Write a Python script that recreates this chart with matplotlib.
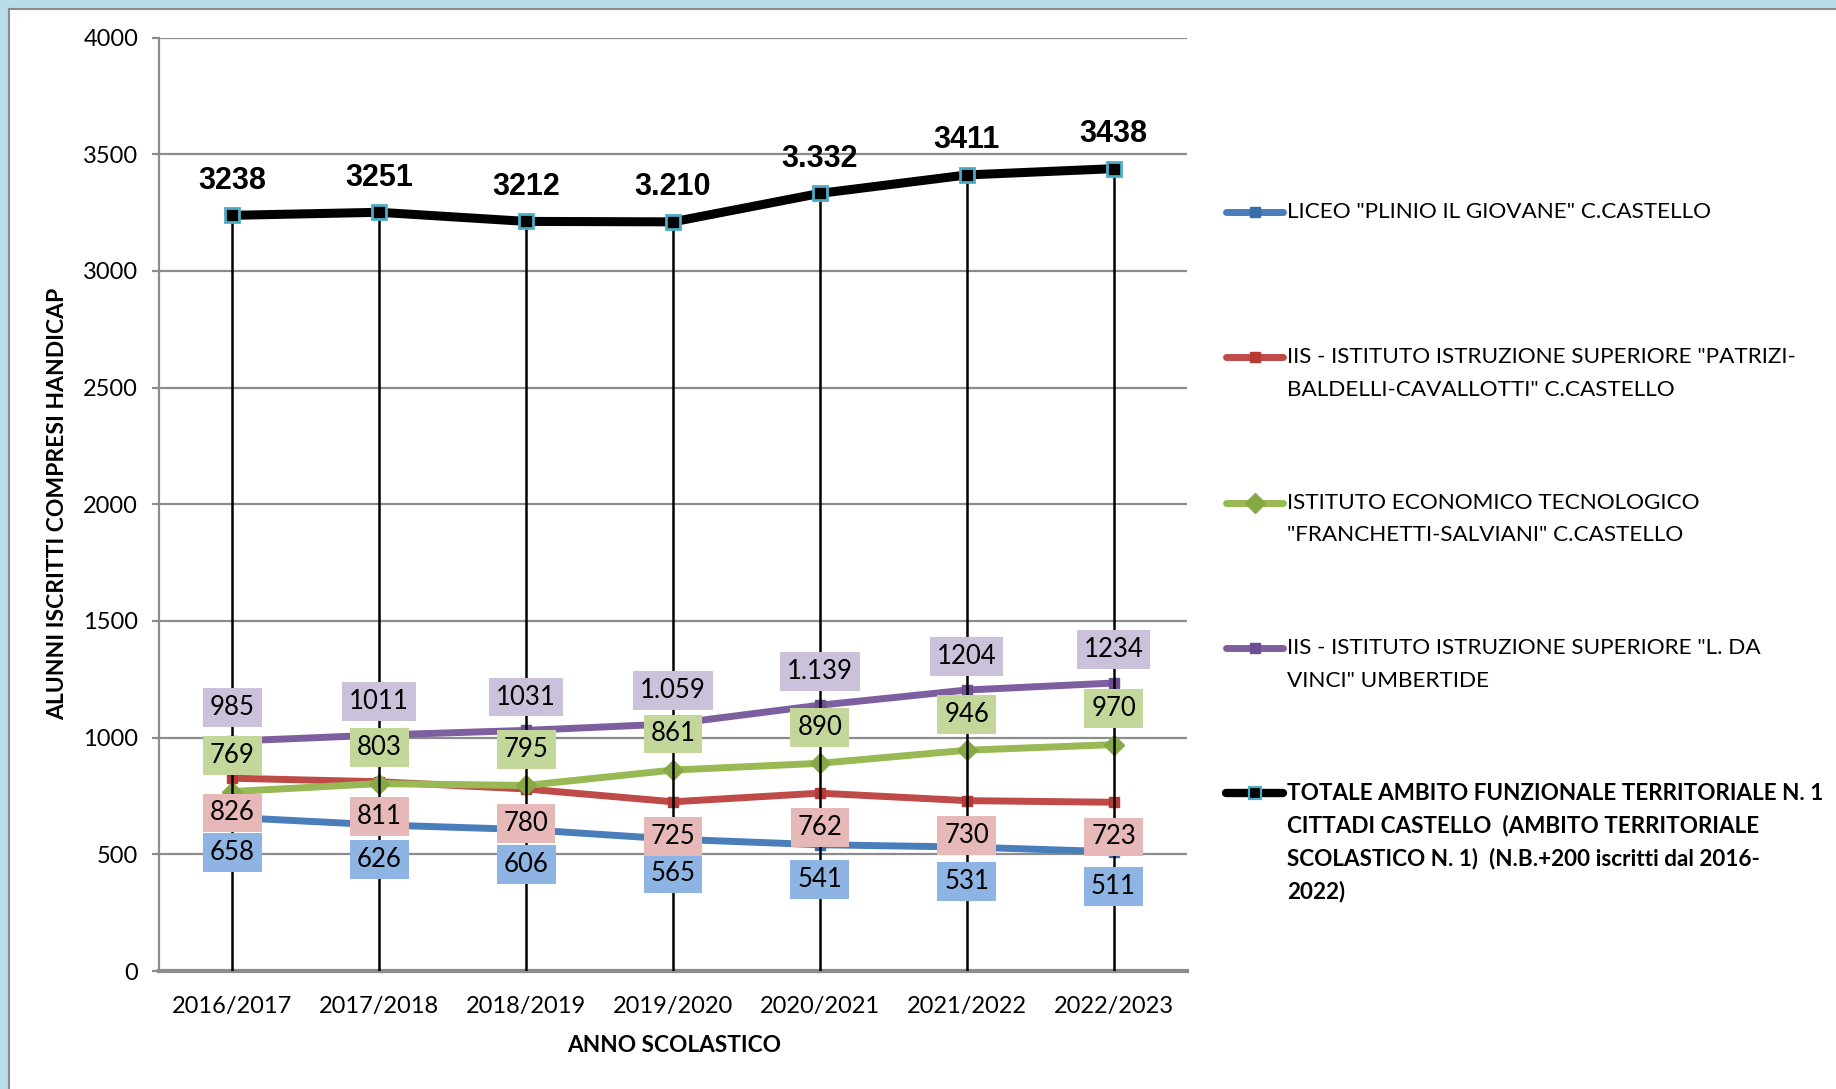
import numpy as np
import matplotlib.pyplot as plt
from matplotlib.patches import Rectangle
from matplotlib.lines import Line2D

# Data
anni = ['2016/2017', '2017/2018', '2018/2019', '2019/2020', '2020/2021', '2021/2022', '2022/2023']
liceo = [658, 626, 606, 565, 541, 531, 511]
patrizi = [826, 811, 780, 725, 762, 730, 723]
economico = [769, 803, 795, 861, 890, 946, 970]
davinci = [985, 1011, 1031, 1059, 1139, 1204, 1234]
totale = [3238, 3251, 3212, 3210, 3332, 3411, 3438]

# labels as printed in the chart
lab_liceo = ['658', '626', '606', '565', '541', '531', '511']
lab_patrizi = ['826', '811', '780', '725', '762', '730', '723']
lab_economico = ['769', '803', '795', '861', '890', '946', '970']
lab_davinci = ['985', '1011', '1031', '1.059', '1.139', '1204', '1234']
lab_totale = ['3238', '3251', '3212', '3.210', '3.332', '3411', '3438']

nomi = [
    ['LICEO "PLINIO IL GIOVANE" C.CASTELLO'],
    ['IIS - ISTITUTO ISTRUZIONE SUPERIORE "PATRIZI-', 'BALDELLI-CAVALLOTTI" C.CASTELLO'],
    ['ISTITUTO ECONOMICO TECNOLOGICO', '"FRANCHETTI-SALVIANI" C.CASTELLO'],
    ['IIS - ISTITUTO ISTRUZIONE SUPERIORE "L. DA', 'VINCI" UMBERTIDE'],
    ['TOTALE AMBITO FUNZIONALE TERRITORIALE N. 1', 'CITTADI CASTELLO  (AMBITO TERRITORIALE',
     'SCOLASTICO N. 1)  (N.B.+200 iscritti dal 2016-', '2022)'],
]

FONT = 'Lato'
W, H = 1836, 1089

fig = plt.figure(figsize=(W / 100, H / 100), dpi=100)
ax = fig.add_axes([159 / W, 118 / H, 1028 / W, 933.5 / H])

x = np.arange(len(anni))

# line series: values, line colour, marker, marker size, marker colour, labels, label box colour, label offset
serie = [
    (liceo, '#4A7EBB', 's', 7, '#3A6BAA', lab_liceo, '#8EB4E3', -25),
    (patrizi, '#BE4B48', 's', 7, '#B83A37', lab_patrizi, '#E6B9B8', -25),
    (economico, '#98B954', 'D', 10, '#86A845', lab_economico, '#C4D79B', 26),
    (davinci, '#7D5FA0', 's', 7, '#6F4F94', lab_davinci, '#CCC1DA', 24),
]

for vals, col, mk, ms, mcol, labs, bcol, off in serie:
    ax.plot(x, vals, color=col, lw=5, marker=mk, ms=ms, mfc=mcol, mec=mcol, zorder=3)

ax.vlines(x, 0, totale, color='black', lw=1.8, zorder=4)
ax.plot(x, totale, color='black', lw=6.5, marker='s', ms=10, mfc='black',
        mec='#4BACC6', mew=2, zorder=5)

for vals, col, mk, ms, mcol, labs, bcol, off in serie:
    for xi, v, t in zip(x, vals, labs):
        ax.annotate(t, (xi, v), xytext=(0, off), textcoords='offset points',
                    ha='center', va='center', fontsize=18.5, family=FONT, zorder=6,
                    bbox=dict(boxstyle='square,pad=0.27', fc=bcol, ec='none'))

for xi, v, t in zip(x, totale, lab_totale):
    ax.annotate(t, (xi, v), xytext=(0, 25), textcoords='offset points',
                ha='center', va='center', fontsize=22, family='Liberation Sans',
                weight='bold', zorder=6)

ax.set_xlim(-0.5, len(anni) - 0.5)
ax.set_ylim(0, 4000)
ax.set_yticks(range(0, 4001, 500))
ax.set_xticks(x)
ax.set_xticklabels(anni)
ax.yaxis.grid(True, color='#8C8C8C', lw=1.6)
ax.set_axisbelow(True)
for s in ['top', 'right']:
    ax.spines[s].set_visible(False)
ax.spines['left'].set_color('#8C8C8C')
ax.spines['left'].set_linewidth(1.6)
ax.spines['bottom'].set_color('#8C8C8C')
ax.spines['bottom'].set_linewidth(3)
ax.tick_params(axis='y', length=5, width=1.6, color='#8C8C8C', pad=10, labelsize=17)
ax.tick_params(axis='x', length=0, pad=18, labelsize=17)
for lab in ax.get_xticklabels() + ax.get_yticklabels():
    lab.set_family(FONT)

fig.text(674 / W, 1 - 1046 / H, 'ANNO SCOLASTICO', ha='center', va='center',
         fontsize=16.3, weight='bold', family=FONT)
fig.text(58 / W, 1 - 504 / H, 'ALUNNI ISCRITTI COMPRESI HANDICAP', ha='center', va='center',
         rotation=90, fontsize=16.5, weight='bold', family=FONT)

# legend drawn by hand so the entries keep Excel's spacing
stili = [(c, mk, ms, mc) for _, c, mk, ms, mc, _, _, _ in serie] + [('black', 's', 8, 'black')]
y0 = 212
for i, (righe, (col, mk, ms, mcol)) in enumerate(zip(nomi, stili)):
    yy = 1 - (y0 + i * 145.3) / H
    kw = dict(mec='#4BACC6', mew=1.6) if i == 4 else dict(mec=mcol)
    fig.add_artist(Line2D([1226 / W, 1254.5 / W, 1283 / W], [yy] * 3, color=col,
                          lw=6 if i == 4 else 5, marker=mk, ms=ms, mfc=mcol,
                          markevery=[1], solid_capstyle='round', **kw))
    for j, r in enumerate(righe):
        fig.text(1287 / W, yy - j * 32.8 / H, r, ha='left', va='center', fontsize=16.2,
                 family=FONT, weight='bold' if i == 4 else 'normal')

# light blue frame around the chart
fig.add_artist(Rectangle((0, 1 - 8 / H), 1, 8 / H, transform=fig.transFigure,
                         color='#B7DDE8', zorder=0))
fig.add_artist(Rectangle((0, 0), 8 / W, 1, transform=fig.transFigure,
                         color='#B7DDE8', zorder=0))
fig.add_artist(Line2D([9 / W, 1], [1 - 9 / H] * 2, color='#8C8C8C', lw=1.5))
fig.add_artist(Line2D([9 / W] * 2, [0, 1 - 9 / H], color='#8C8C8C', lw=1.5))

fig.savefig('out.png', dpi=100)
